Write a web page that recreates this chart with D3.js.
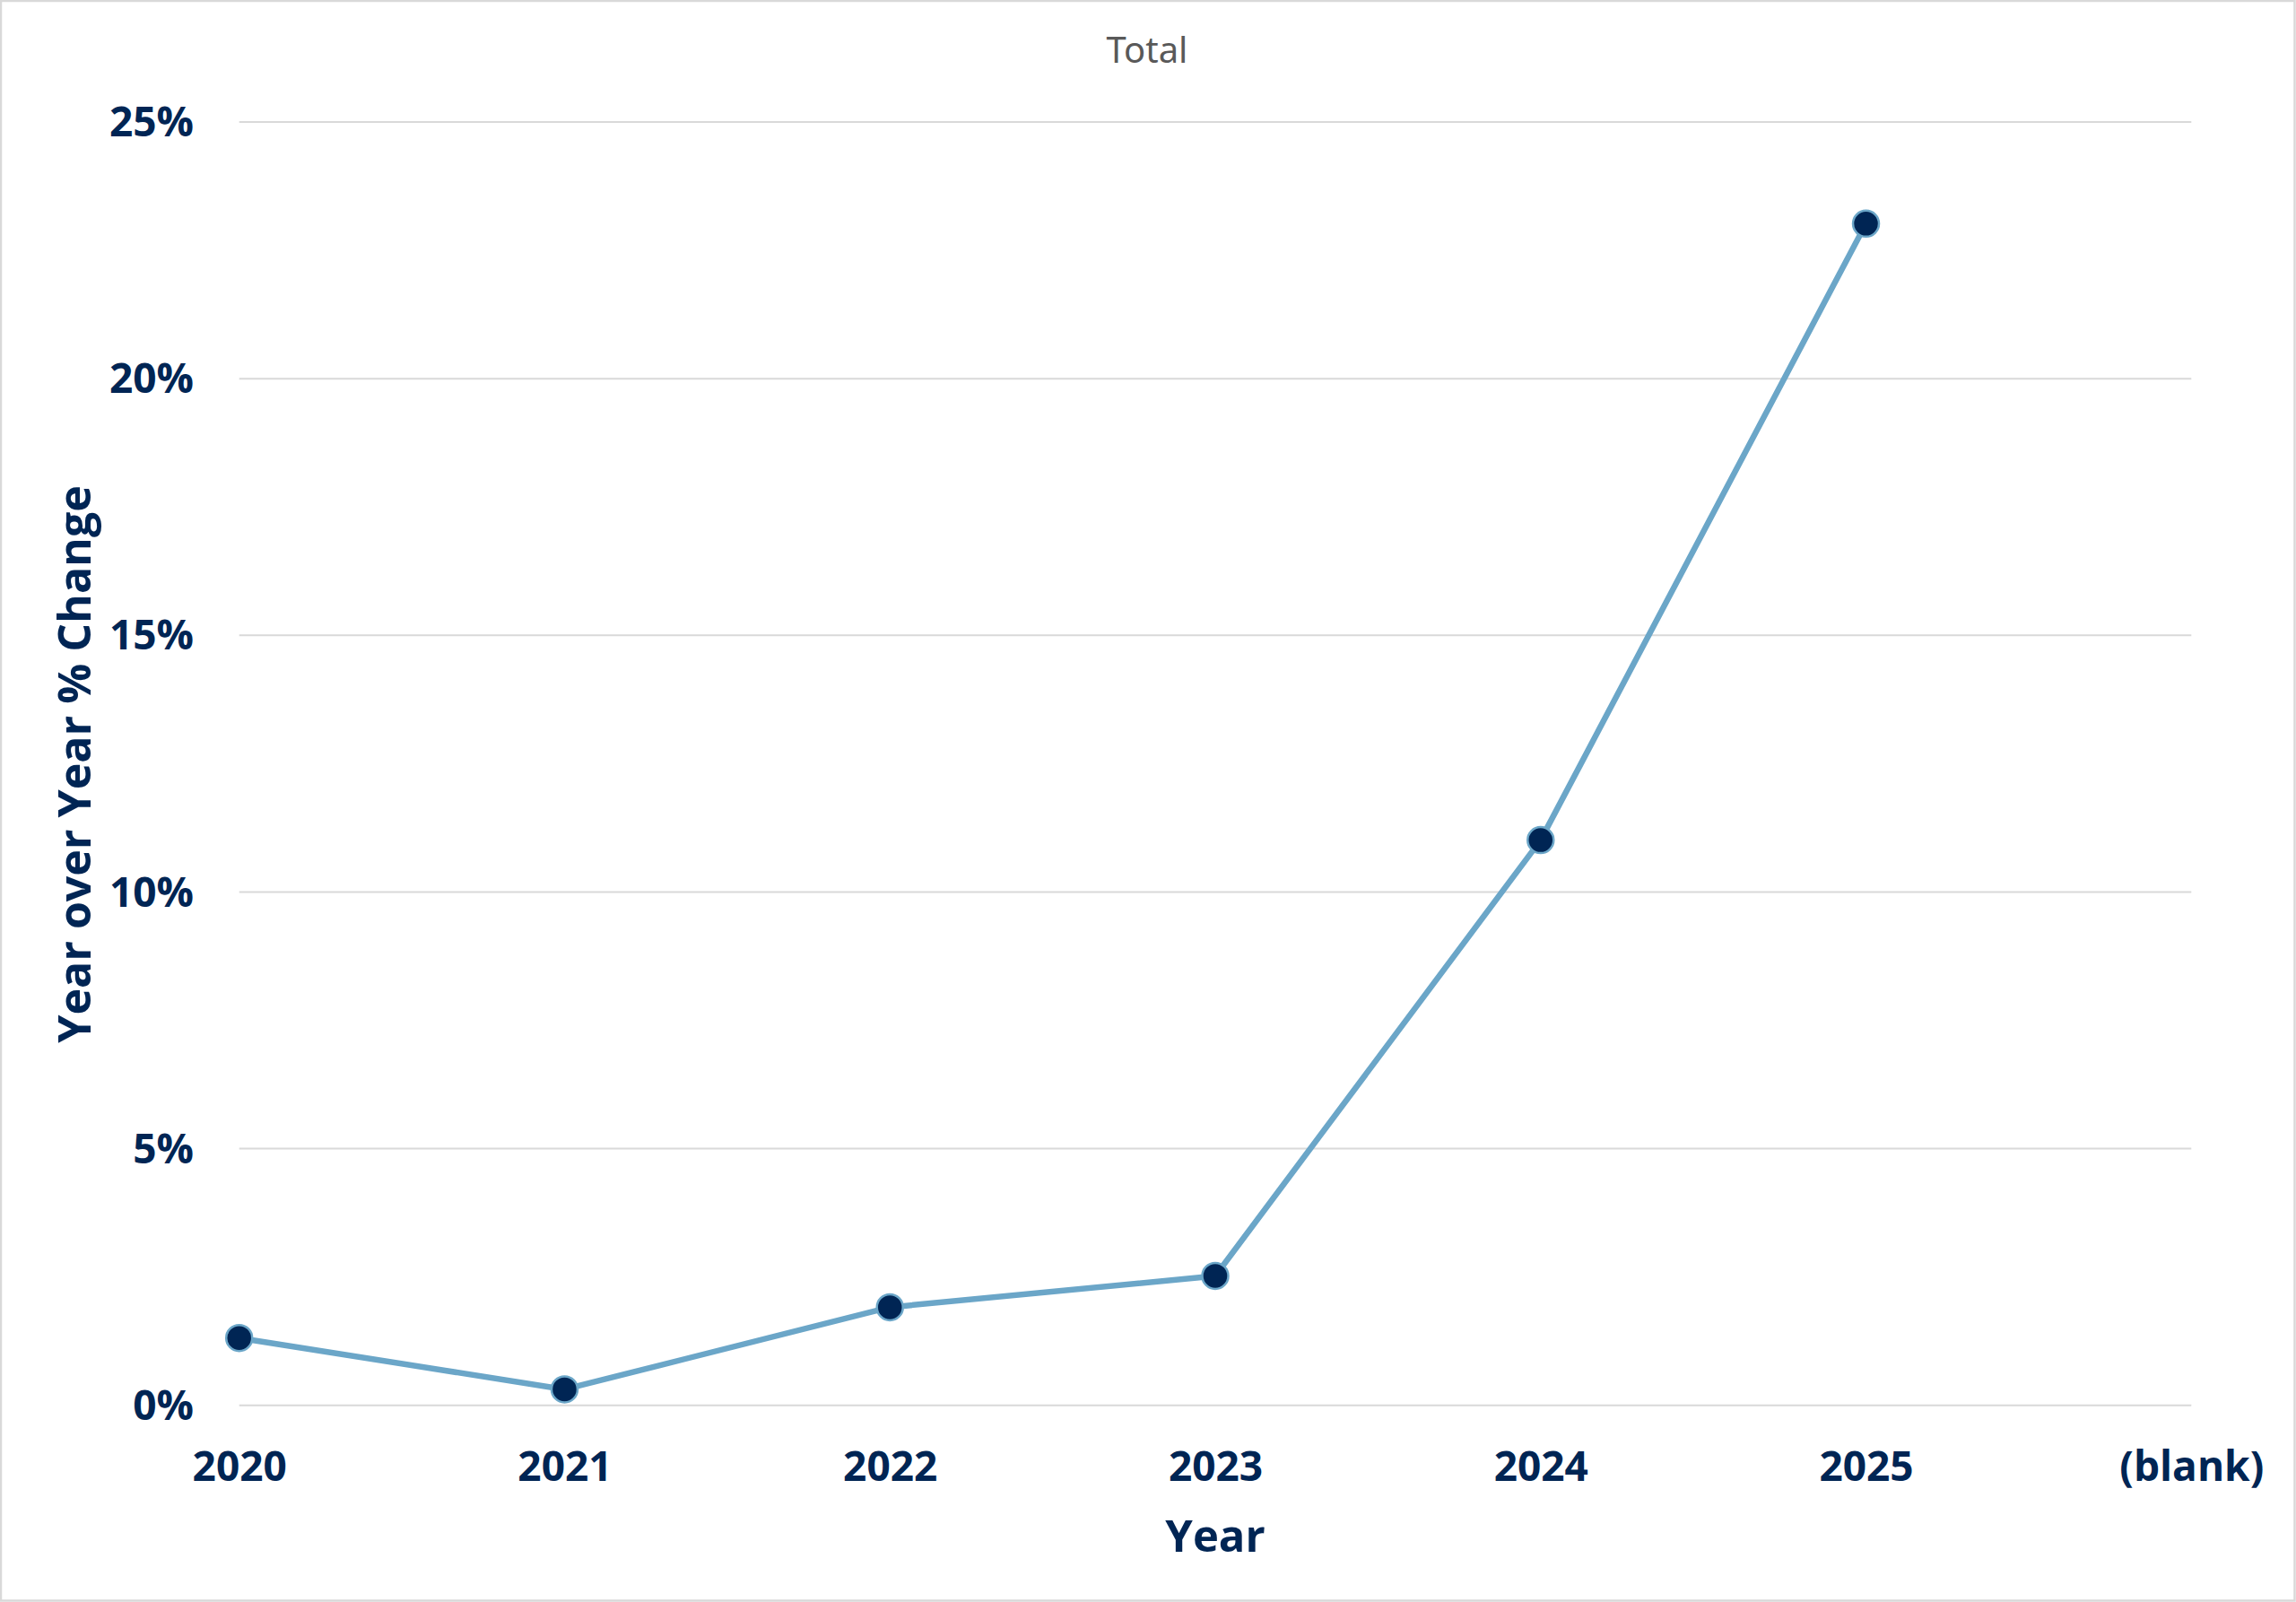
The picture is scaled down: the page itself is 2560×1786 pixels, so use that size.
<!DOCTYPE html>
<html>
<head>
<meta charset="utf-8">
<script src="https://cdn.jsdelivr.net/npm/d3@7"></script>
<style>
html, body { margin: 0; padding: 0; background: #fff; }
svg { display: block; }
</style>
</head>
<body>
<script>
const categories = ["2020", "2021", "2022", "2023", "2024", "2025", "(blank)"];
const years = ["2020", "2021", "2022", "2023", "2024", "2025"];
const values = [0.0131, 0.0031, 0.0191, 0.0252, 0.1101, 0.2302];
const yTicks = [0, 0.05, 0.10, 0.15, 0.20, 0.25];
const title = "Total";
const xTitle = "Year";
const yTitle = "Year over Year % Change";

const W = 2560, H = 1786;
const navy = "#002554";
const lineColor = "#6ba6c8";
const gridColor = "#d9d9d9";
const font = "'Open Sans', 'Noto Sans', sans-serif";

const svg = d3.select("body").append("svg").attr("width", W).attr("height", H);

svg.append("rect").attr("x", 1).attr("y", 1).attr("width", W - 2.5).attr("height", H - 2.5)
  .attr("fill", "#fff").attr("stroke", gridColor).attr("stroke-width", 2.5);

const x = d3.scalePoint().domain(categories).range([266.7, 2443.3]).padding(0);
const y = d3.scaleLinear().domain([0, 0.25]).range([1566.7, 136]);

// gridlines
svg.append("g").selectAll("line").data(yTicks).join("line")
  .attr("x1", x.range()[0]).attr("x2", x.range()[1])
  .attr("y1", d => y(d)).attr("y2", d => y(d))
  .attr("stroke", gridColor).attr("stroke-width", 2);

// y axis labels
const yAxis = d3.axisLeft(y).tickValues(yTicks).tickFormat(d3.format(".0%")).tickSize(0).tickPadding(0);
const gy = svg.append("g").attr("transform", `translate(216,0)`).call(yAxis);
gy.select(".domain").remove();
gy.selectAll("text").attr("font-family", font).attr("font-weight", 700)
  .attr("font-size", 46).attr("fill", navy).attr("dy", "0.34em");

// x axis labels
const xAxis = d3.axisBottom(x).tickSize(0).tickPadding(0);
const gx = svg.append("g").attr("transform", `translate(0,1651)`).call(xAxis);
gx.select(".domain").remove();
gx.selectAll("text").attr("font-family", font).attr("font-weight", 700)
  .attr("font-size", 46).attr("fill", navy).attr("dy", 0);

// line
const pts = years.map((c, i) => ({c, v: values[i]}));
svg.append("path").datum(pts)
  .attr("d", d3.line().x(d => x(d.c)).y(d => y(d.v)))
  .attr("fill", "none").attr("stroke", lineColor).attr("stroke-width", 6.5)
  .attr("stroke-linejoin", "round");

svg.append("g").selectAll("circle").data(pts).join("circle")
  .attr("cx", d => x(d.c)).attr("cy", d => y(d.v)).attr("r", 14.5)
  .attr("fill", navy).attr("stroke", lineColor).attr("stroke-width", 2.5);

// title
svg.append("text").attr("x", 1279).attr("y", 70).attr("text-anchor", "middle")
  .attr("font-family", "'Noto Sans', 'Open Sans', sans-serif").attr("font-size", 40)
  .attr("fill", "#595959").text(title);

// axis titles
svg.append("text").attr("x", 1355).attr("y", 1730).attr("text-anchor", "middle")
  .attr("font-family", font).attr("font-weight", 700).attr("font-size", 49)
  .attr("fill", navy).text(xTitle);

svg.append("text").attr("transform", "translate(101,852) rotate(-90)")
  .attr("text-anchor", "middle")
  .attr("font-family", font).attr("font-weight", 700).attr("font-size", 50)
  .attr("fill", navy).text(yTitle);
</script>
</body>
</html>
